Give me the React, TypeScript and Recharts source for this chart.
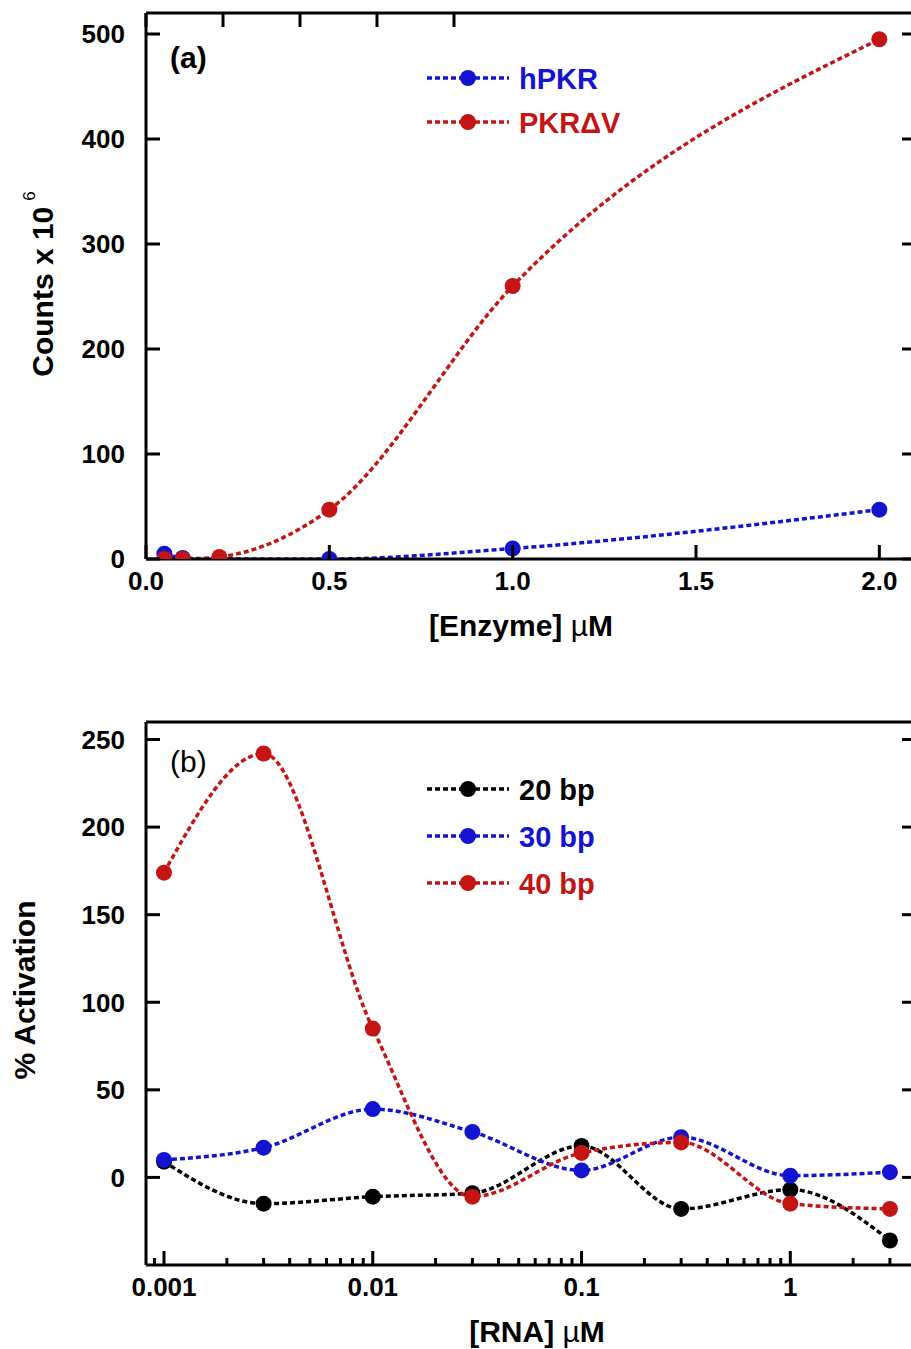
import { LineChart, Line, XAxis, YAxis, Legend, Customized } from "recharts";

// panel (a): counts vs enzyme concentration
const enzymeConc = [0.05, 0.1, 0.2, 0.5, 1.0, 2.0];
const hPKRCounts = [5, 1, 0, 0, 10, 47];
const pkrDVCounts = [0, 0, 2, 47, 260, 495];
const enzymeTicks = [0, 0.5, 1, 1.5, 2];
const countTicks = [0, 100, 200, 300, 400, 500];

// panel (b): % activation vs RNA concentration
const rnaConc = [0.001, 0.003, 0.01, 0.03, 0.1, 0.3, 1, 3];
const act20bp = [9, -15, -11, -9, 18, -18, -7, -36];
const act30bp = [10, 17, 39, 26, 4, 23, 1, 3];
const act40bp = [174, 242, 85, -11, 14, 20, -15, -18];
const rnaMajorTicks = [0.001, 0.01, 0.1, 1];
const rnaMinorTicks = [
  0.0009, 0.002, 0.003, 0.004, 0.005, 0.006, 0.007, 0.008, 0.009,
  0.02, 0.03, 0.04, 0.05, 0.06, 0.07, 0.08, 0.09,
  0.2, 0.3, 0.4, 0.5, 0.6, 0.7, 0.8, 0.9, 2, 3,
];
const activationTicks = [0, 50, 100, 150, 200, 250];

const FONT = "'Liberation Sans', Arial, Helvetica, sans-serif";
const BLUE = "#1414d0";
const RED = "#c41414";
const BLACK = "#000000";
const DASH = "5 3";
const AXIS = { stroke: "#000", strokeWidth: 3 };

const enzymeData = enzymeConc.map((x, i) => ({
  x,
  hpkr: hPKRCounts[i],
  pkrdv: pkrDVCounts[i],
}));

const rnaData = rnaConc.map((x, i) => ({
  x,
  bp20: act20bp[i],
  bp30: act30bp[i],
  bp40: act40bp[i],
}));

const rnaTicks = [...rnaMajorTicks, ...rnaMinorTicks].sort((a, b) => a - b);
const isDecade = (v: number) =>
  Math.abs(Math.log10(v) - Math.round(Math.log10(v))) < 1e-6;

const dotOf = (color: string) => (p: any) => (
  <circle key={`dot-${p.index}`} cx={p.cx} cy={p.cy} r={8} fill={color} />
);

// ticks point inward; labels only on the bottom / left axes
const xTick =
  (side: "top" | "bottom", fmt?: (v: number) => string, log = false) =>
  (p: any) => {
    const { x, y, payload } = p;
    const major = log ? isDecade(payload.value) : true;
    const len = major ? 14 : 7;
    const dir = side === "bottom" ? -1 : 1;
    return (
      <g>
        <line x1={x} x2={x} y1={y} y2={y + dir * len} stroke="#000" strokeWidth={3} />
        {side === "bottom" && major && fmt && (
          <text
            x={x}
            y={y + 31}
            textAnchor="middle"
            fontFamily={FONT}
            fontWeight="bold"
            fontSize={26}
            fill="#000"
          >
            {fmt(payload.value)}
          </text>
        )}
      </g>
    );
  };

const yTick = (side: "left" | "right") => (p: any) => {
  const { x, y, payload } = p;
  const dir = side === "left" ? 1 : -1;
  return (
    <g>
      <line x1={x} x2={x + dir * 14} y1={y} y2={y} stroke="#000" strokeWidth={3} />
      {side === "left" && (
        <text
          x={x - 21}
          y={y}
          dy="0.36em"
          textAnchor="end"
          fontFamily={FONT}
          fontWeight="bold"
          fontSize={26}
          fill="#000"
        >
          {payload.value}
        </text>
      )}
    </g>
  );
};

type Item = { name: string; color: string };

const legendBox = (items: Item[], first: number, gap: number) => () => (
  <svg width={260} height={first + gap * items.length} style={{ display: "block" }}>
    {items.map((it, i) => {
      const cy = first + i * gap;
      return (
        <g key={it.name}>
          <line x1={5} x2={87} y1={cy} y2={cy} stroke={it.color} strokeWidth={3.5} strokeDasharray={DASH} />
          <circle cx={46} cy={cy} r={8} fill={it.color} />
          <text x={97} y={cy + 11} fontFamily={FONT} fontWeight="bold" fontSize={29} fill={it.color}>
            {it.name}
          </text>
        </g>
      );
    })}
  </svg>
);

const axisTitle = (text: string, x: number, y: number) => () => (
  <text x={x} y={y} textAnchor="middle" fontFamily={FONT} fontWeight="bold" fontSize={30} fill="#000">
    {text}
    <tspan fontWeight="normal"> {"\u00b5"}</tspan>
    M
  </text>
);

export default function App() {
  return (
    <div
      style={{
        position: "absolute",
        left: 0,
        top: 0,
        width: 911,
        height: 1349,
        overflow: "hidden",
        background: "#fff",
      }}
    >
      <LineChart width={940} height={660} data={enzymeData} margin={{ top: 12, right: 14, bottom: 0, left: 0 }}>
        <XAxis
          dataKey="x"
          type="number"
          domain={[0, 2.1]}
          ticks={enzymeTicks}
          interval={0}
          allowDataOverflow
          height={101}
          tickSize={0}
          tickMargin={0}
          axisLine={AXIS}
          tick={xTick("bottom", (v) => v.toFixed(1))}
        />
        <XAxis
          xAxisId="top"
          orientation="top"
          type="number"
          domain={[0, 2.1]}
          ticks={enzymeTicks}
          interval={0}
          allowDataOverflow
          height={1}
          tickSize={0}
          tickMargin={0}
          axisLine={AXIS}
          tick={xTick("top")}
        />
        <YAxis
          type="number"
          domain={[0, 520]}
          ticks={countTicks}
          interval={0}
          allowDataOverflow
          width={146}
          tickSize={0}
          tickMargin={0}
          axisLine={AXIS}
          tick={yTick("left")}
        />
        <YAxis
          yAxisId="right"
          orientation="right"
          type="number"
          domain={[0, 520]}
          ticks={countTicks}
          interval={0}
          allowDataOverflow
          width={10}
          tickSize={0}
          tickMargin={0}
          axisLine={AXIS}
          tick={yTick("right")}
        />
        <Line
          dataKey="hpkr"
          name="hPKR"
          type="monotone"
          stroke={BLUE}
          strokeWidth={3.5}
          strokeDasharray={DASH}
          dot={dotOf(BLUE)}
          activeDot={false}
          isAnimationActive={false}
        />
        <Line
          dataKey="pkrdv"
          name={"PKR\u0394V"}
          type="monotone"
          stroke={RED}
          strokeWidth={3.5}
          strokeDasharray={DASH}
          dot={dotOf(RED)}
          activeDot={false}
          isAnimationActive={false}
        />
        <Legend
          layout="horizontal"
          align="center"
          verticalAlign="middle"
          wrapperStyle={{ left: 422, top: 60, width: 260 }}
          content={legendBox(
            [
              { name: "hPKR", color: BLUE },
              { name: "PKR\u0394V", color: RED },
            ],
            18,
            44
          )}
        />
        <Customized
          component={() => (
            <g>
              <text x={170} y={68} fontFamily={FONT} fontWeight="bold" fontSize={30} fill="#000">
                (a)
              </text>
              <text
                transform="translate(53, 284) rotate(-90)"
                textAnchor="middle"
                fontFamily={FONT}
                fontWeight="bold"
                fontSize={30}
                fill="#000"
              >
                Counts x 10
                <tspan dx={6} dy={-18} fontSize={17} fontWeight="normal">
                  6
                </tspan>
              </text>
            </g>
          )}
        />
        <Customized component={axisTitle("[Enzyme]", 521, 636)} />
      </LineChart>

      <LineChart width={940} height={689} data={rnaData} margin={{ top: 61, right: 14, bottom: 0, left: 0 }}>
        <XAxis
          dataKey="x"
          type="number"
          scale="log"
          domain={[0.00082, 4]}
          ticks={rnaTicks}
          interval={0}
          allowDataOverflow
          height={84}
          tickSize={0}
          tickMargin={0}
          axisLine={AXIS}
          tick={xTick("bottom", (v) => String(v), true)}
        />
        <XAxis
          xAxisId="top"
          orientation="top"
          type="number"
          scale="log"
          domain={[0.00082, 4]}
          ticks={rnaTicks}
          interval={0}
          allowDataOverflow
          height={1}
          tickSize={0}
          tickMargin={0}
          axisLine={AXIS}
          tick={xTick("top", undefined, true)}
        />
        <YAxis
          type="number"
          domain={[-50, 260]}
          ticks={activationTicks}
          interval={0}
          allowDataOverflow
          width={146}
          tickSize={0}
          tickMargin={0}
          axisLine={AXIS}
          tick={yTick("left")}
        />
        <YAxis
          yAxisId="right"
          orientation="right"
          type="number"
          domain={[-50, 260]}
          ticks={activationTicks}
          interval={0}
          allowDataOverflow
          width={10}
          tickSize={0}
          tickMargin={0}
          axisLine={AXIS}
          tick={yTick("right")}
        />
        <Line
          dataKey="bp20"
          name="20 bp"
          type="monotone"
          stroke={BLACK}
          strokeWidth={3.5}
          strokeDasharray={DASH}
          dot={dotOf(BLACK)}
          activeDot={false}
          isAnimationActive={false}
        />
        <Line
          dataKey="bp30"
          name="30 bp"
          type="monotone"
          stroke={BLUE}
          strokeWidth={3.5}
          strokeDasharray={DASH}
          dot={dotOf(BLUE)}
          activeDot={false}
          isAnimationActive={false}
        />
        <Line
          dataKey="bp40"
          name="40 bp"
          type="monotone"
          stroke={RED}
          strokeWidth={3.5}
          strokeDasharray={DASH}
          dot={dotOf(RED)}
          activeDot={false}
          isAnimationActive={false}
        />
        <Legend
          layout="horizontal"
          align="center"
          verticalAlign="middle"
          wrapperStyle={{ left: 422, top: 110, width: 260 }}
          content={legendBox(
            [
              { name: "20 bp", color: BLACK },
              { name: "30 bp", color: BLUE },
              { name: "40 bp", color: RED },
            ],
            19,
            47
          )}
        />
        <Customized
          component={() => (
            <g>
              <text x={170} y={112} fontFamily={FONT} fontSize={30} fill="#000">
                (b)
              </text>
              <text
                transform="translate(35, 330) rotate(-90)"
                textAnchor="middle"
                fontFamily={FONT}
                fontWeight="bold"
                fontSize={30}
                fill="#000"
              >
                % Activation
              </text>
            </g>
          )}
        />
        <Customized component={axisTitle("[RNA]", 537, 682)} />
      </LineChart>
    </div>
  );
}
